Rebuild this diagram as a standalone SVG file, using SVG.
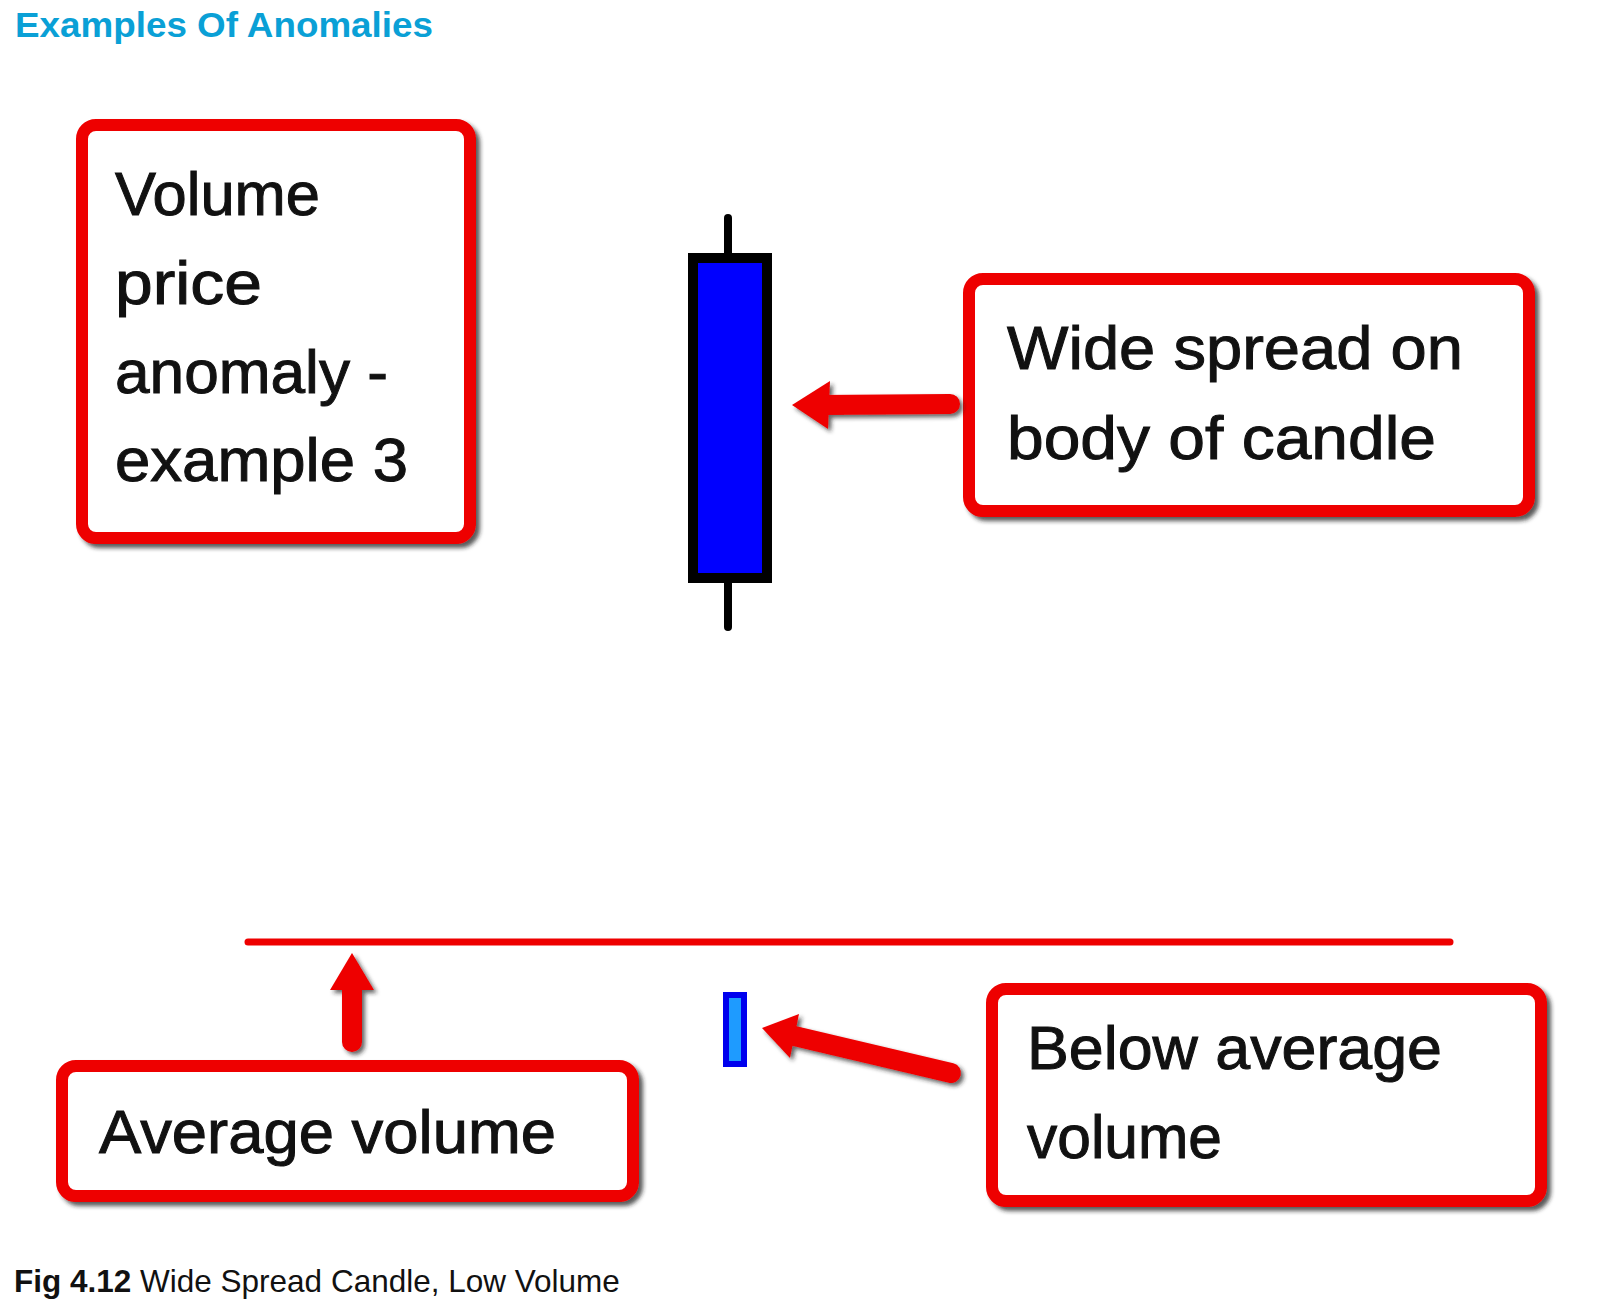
<svg xmlns="http://www.w3.org/2000/svg" width="1600" height="1315" viewBox="0 0 1600 1315">
<defs>
<filter id="sh" x="-10%" y="-10%" width="130%" height="130%">
<feDropShadow dx="4" dy="4" stdDeviation="2" flood-color="#222" flood-opacity="0.75"/>
</filter>
<filter id="ash" x="-20%" y="-20%" width="150%" height="150%">
<feDropShadow dx="3" dy="3" stdDeviation="2" flood-color="#222" flood-opacity="0.7"/>
</filter>
</defs>
<style>
.box{fill:#fff;stroke:#ee0000;stroke-width:12}
.lbl{font-family:"Liberation Sans",Arial,sans-serif;font-size:62px;fill:#111;stroke:#111;stroke-width:1}
.arr{fill:#ee0000;stroke:none}
.shaft{stroke:#ee0000;stroke-linecap:round;fill:none}
</style>
<rect width="1600" height="1315" fill="#fff"/>
<text x="15" y="37" font-family="'Liberation Sans',Arial,sans-serif" font-size="35" font-weight="bold" fill="#0aa0d6" textLength="418" lengthAdjust="spacingAndGlyphs">Examples Of Anomalies</text>

<g id="box-anomaly">
<rect class="box" x="82" y="125" width="388" height="413" rx="14" filter="url(#sh)"/>
<text class="lbl" x="115" y="215" textLength="205" lengthAdjust="spacingAndGlyphs">Volume</text>
<text class="lbl" x="115" y="304" textLength="147" lengthAdjust="spacingAndGlyphs">price</text>
<text class="lbl" x="115" y="393" textLength="273" lengthAdjust="spacingAndGlyphs">anomaly -</text>
<text class="lbl" x="115" y="481" textLength="293" lengthAdjust="spacingAndGlyphs">example 3</text>
</g>

<g id="candle">
<line x1="728" y1="218" x2="728" y2="627" stroke="#000" stroke-width="8" stroke-linecap="round"/>
<rect x="693" y="258" width="74" height="320" fill="#0000ff" stroke="#000" stroke-width="10"/>
</g>

<g id="box-wide-spread">
<rect class="box" x="969" y="279" width="560" height="232" rx="14" filter="url(#sh)"/>
<text class="lbl" x="1007" y="369" textLength="456" lengthAdjust="spacingAndGlyphs">Wide spread on</text>
<text class="lbl" x="1007" y="459" textLength="429" lengthAdjust="spacingAndGlyphs">body of candle</text>
</g>

<g id="avg-line">
<line x1="248" y1="942" x2="1450" y2="942" stroke="#ee0000" stroke-width="7" stroke-linecap="round"/>
</g>

<g id="volume-bar">
<rect x="726" y="995" width="18" height="69" fill="#1e9bff" stroke="#0000ee" stroke-width="6"/>
</g>

<g id="box-average">
<rect class="box" x="62" y="1066" width="571" height="130" rx="14" filter="url(#sh)"/>
<text class="lbl" x="99" y="1153" textLength="457" lengthAdjust="spacingAndGlyphs">Average volume</text>
</g>

<g id="box-below">
<rect class="box" x="992" y="989" width="549" height="212" rx="14" filter="url(#sh)"/>
<text class="lbl" x="1027" y="1069" textLength="415" lengthAdjust="spacingAndGlyphs">Below average</text>
<text class="lbl" x="1027" y="1158" textLength="195" lengthAdjust="spacingAndGlyphs">volume</text>
</g>

<g id="connectors" filter="url(#ash)">
<g>
<line class="shaft" x1="822" y1="405" x2="950" y2="404" stroke-width="20"/>
<polygon class="arr" points="792,405 830,381 828,429"/>
</g>
<g>
<line class="shaft" x1="352" y1="985" x2="352" y2="1042" stroke-width="20"/>
<polygon class="arr" points="352,953 374,990 330,990"/>
</g>
<g>
<line class="shaft" x1="790" y1="1035" x2="951" y2="1073" stroke-width="20"/>
<polygon class="arr" points="762,1028 799,1014 790,1058"/>
</g>
</g>

<text x="14" y="1292" font-family="'Liberation Sans',Arial,sans-serif" font-size="31.5" fill="#111"><tspan font-weight="bold">Fig 4.12</tspan> Wide Spread Candle, Low Volume</text>
</svg>
